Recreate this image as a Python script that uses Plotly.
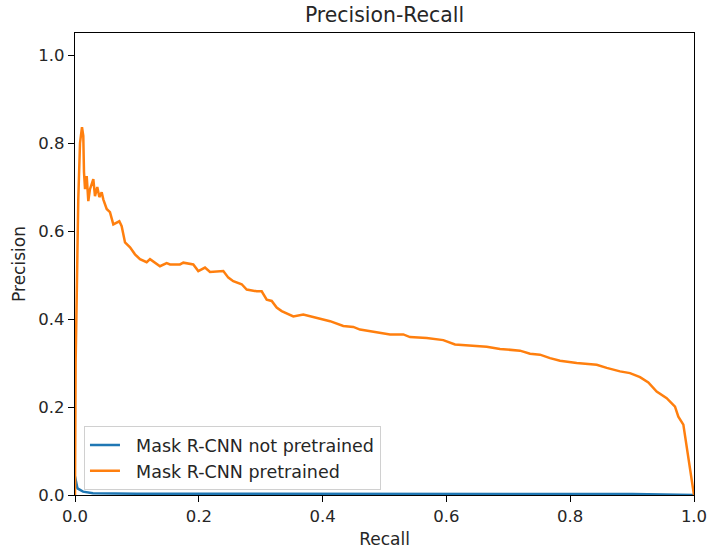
import plotly.graph_objects as go

# Orange: Mask R-CNN pretrained
recall_pre = [0.0, 0.001, 0.0027, 0.0053, 0.0081, 0.0113, 0.0134, 0.0136, 0.0145, 0.0162, 0.0189,
              0.0215, 0.0242, 0.0296, 0.0323, 0.036, 0.0393, 0.0431, 0.0457, 0.0512, 0.0565,
              0.0619, 0.0716, 0.0754, 0.0808, 0.0889, 0.0969, 0.105, 0.1158, 0.1212, 0.1373,
              0.1481, 0.1535, 0.1696, 0.175, 0.1911, 0.1992, 0.21, 0.2181, 0.2396, 0.2477,
              0.2557, 0.2693, 0.2774, 0.2935, 0.3016, 0.3097, 0.3178, 0.3258, 0.3339, 0.3527,
              0.3688, 0.3905, 0.412, 0.4334, 0.4496, 0.4604, 0.4766, 0.4819, 0.5089, 0.5304,
              0.5412, 0.5682, 0.595, 0.6139, 0.6381, 0.6651, 0.6866, 0.7189, 0.7351, 0.7512,
              0.7674, 0.7835, 0.8105, 0.8428, 0.859, 0.8805, 0.8966, 0.9128, 0.9262, 0.9397,
              0.9559, 0.9693, 0.9747, 0.9828, 1.0]
prec_pre = [0.0, 0.30, 0.444, 0.672, 0.80, 0.836, 0.816, 0.752, 0.734, 0.695, 0.725,
            0.668, 0.695, 0.718, 0.679, 0.70, 0.677, 0.688, 0.672, 0.65, 0.643,
            0.615, 0.622, 0.611, 0.574, 0.563, 0.547, 0.536, 0.529, 0.536, 0.52,
            0.527, 0.524, 0.524, 0.528, 0.524, 0.509, 0.517, 0.507, 0.509, 0.494,
            0.486, 0.479, 0.467, 0.463, 0.463, 0.444, 0.441, 0.426, 0.418, 0.406,
            0.41, 0.403, 0.395, 0.384, 0.382, 0.376, 0.372, 0.37, 0.365, 0.365,
            0.359, 0.357, 0.352, 0.342, 0.34, 0.337, 0.332, 0.328, 0.321, 0.319,
            0.311, 0.305, 0.30, 0.296, 0.289, 0.281, 0.277, 0.268, 0.256, 0.235,
            0.22, 0.201, 0.178, 0.16, 0.0]

# Blue: Mask R-CNN not pretrained
recall_np = [0.0, 0.002, 0.004, 0.013, 0.029, 0.1, 0.3, 0.5, 0.7, 0.9, 1.0]
prec_np = [0.042, 0.03, 0.015, 0.0076, 0.004, 0.003, 0.003, 0.003, 0.002, 0.002, 0.0]

x_ticks = [0.0, 0.2, 0.4, 0.6, 0.8, 1.0]
y_ticks = [0.0, 0.2, 0.4, 0.6, 0.8, 1.0]
series_names = ["\u00a0\u00a0Mask R-CNN not pretrained", "\u00a0\u00a0Mask R-CNN pretrained"]

TXT = "#262626"

fig = go.Figure()
fig.add_trace(go.Scatter(x=recall_np, y=prec_np, mode="lines", name=series_names[0],
                         line=dict(color="#1f77b4", width=2.5)))
fig.add_trace(go.Scatter(x=recall_pre, y=prec_pre, mode="lines", name=series_names[1],
                         line=dict(color="#ff7f0e", width=2.5)))

axis_common = dict(showgrid=False, zeroline=False, showline=True, mirror=True,
                   linecolor="black", linewidth=1.3, ticks="outside", ticklen=6,
                   tickcolor="black", tickwidth=1.3, tickformat=".1f", automargin=False,
                   ticklabeloverflow="allow",
                   tickfont=dict(family="DejaVu Sans", size=16.5, color=TXT))

fig.update_layout(
    width=707, height=550,
    margin=dict(l=75, r=13, t=33, b=55),
    paper_bgcolor="white", plot_bgcolor="white",
    font=dict(family="DejaVu Sans", size=17, color=TXT),
    title=dict(text="Precision-Recall", x=0.5, xref="paper", xanchor="center",
               y=1 - 15 / 550, yanchor="middle", font=dict(size=20.4, color=TXT)),
    xaxis=dict(range=[0, 1.000001], tickvals=x_ticks,
               title=dict(text="Recall", standoff=8, font=dict(size=17)), **axis_common),
    yaxis=dict(range=[0, 1.05], tickvals=y_ticks,
               title=dict(text="Precision", standoff=8, font=dict(size=17)), **axis_common),
    legend=dict(x=0.0145, y=0.0103, xanchor="left", yanchor="bottom",
                bgcolor="rgba(255,255,255,0.8)", bordercolor="#d0d0d0", borderwidth=1,
                font=dict(size=17.5, color=TXT)),
    showlegend=True,
)

fig.write_html("out.html")
